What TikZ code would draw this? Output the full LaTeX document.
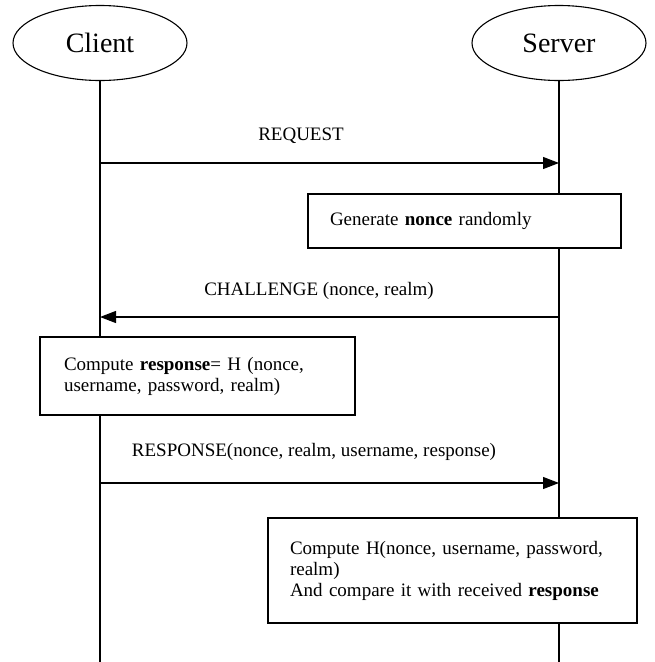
\documentclass[tikz,border=0pt]{standalone}
\usepackage{fontspec}
\setmainfont{Liberation Serif}
\usetikzlibrary{shapes.geometric,arrows.meta}

\tikzset{
  party/.style={draw, ellipse, line width=1.1pt, minimum width=174pt, minimum height=75pt, inner sep=0pt, font=\fontsize{28}{32}\selectfont},
  lifeline/.style={line width=1.2pt},
  message/.style={line width=1.2pt, -{Triangle[length=16pt,width=12pt]}},
  action/.style={draw, fill=white, line width=1.2pt, align=left, inner xsep=22pt, inner ysep=0pt},
  msglabel/.style={inner sep=0pt}
}

\begin{document}
\begin{tikzpicture}[x=1pt, y=-1pt, font=\fontsize{19}{21}\selectfont]
\useasboundingbox (0,0) rectangle (655,662);

\node[party] (client) at (100,43) {Client};
\node[party] (server) at (559,43) {Server};

\coordinate (clientend) at (100,662);
\coordinate (serverend) at (559,662);
\draw[lifeline] (client) -- (clientend);
\draw[lifeline] (server) -- (serverend);

\coordinate (c1) at (100,163);
\coordinate (s1) at (559,163);
\draw[message] (c1) -- (s1);
\node[msglabel] (request) at (301,136) {REQUEST};

\node[action, text width=269pt, minimum width=313pt, minimum height=54pt] (nonce) at (464.5,221) {Generate \textbf{nonce} randomly};

\coordinate (s2) at (559,317);
\coordinate (c2) at (100,317);
\draw[message] (s2) -- (c2);
\node[msglabel] (challenge) at (319,291) {CHALLENGE (nonce, realm)};

\node[action, inner xsep=24pt, text width=267pt, minimum width=315pt, minimum height=78pt] (compute) at (197.5,376) {Compute \textbf{response}= H (nonce,\\ username, password, realm)};

\coordinate (c3) at (100,483);
\coordinate (s3) at (559,483);
\draw[message] (c3) -- (s3);
\node[msglabel] (response) at (314,452) {RESPONSE(nonce, realm, username, response)};

\node[action, text width=325pt, minimum width=369pt, minimum height=105pt] (verify) at (452.5,570.5) {Compute H(nonce, username, password,\\ realm)\\ And compare it with received \textbf{response}};

\end{tikzpicture}
\end{document}
